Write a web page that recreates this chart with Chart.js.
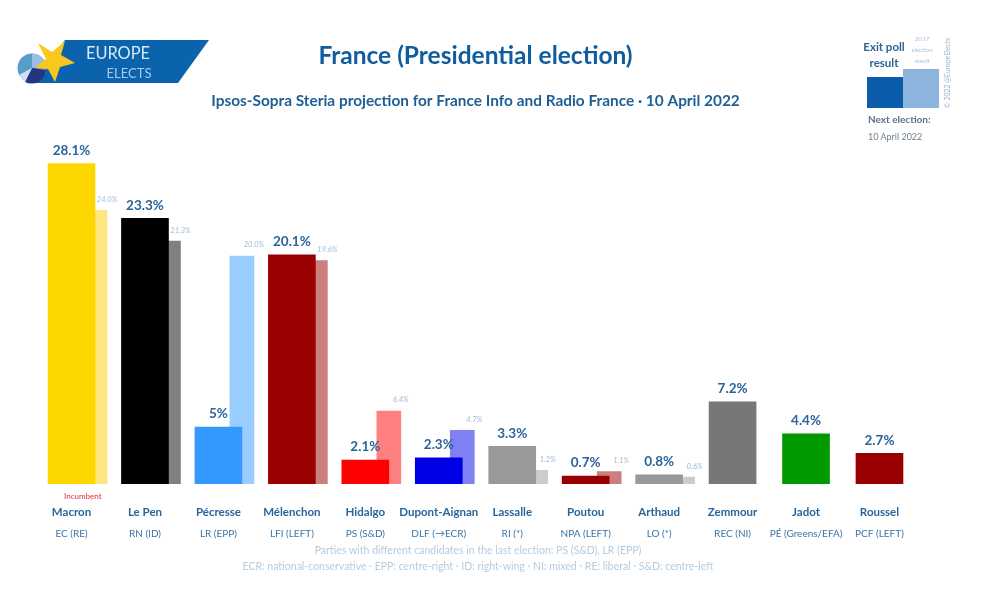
<!DOCTYPE html>
<html><head><meta charset="utf-8">
<script src="https://cdn.jsdelivr.net/npm/chart.js@4"></script>
<style>
html,body{margin:0;padding:0;background:#fff;width:1000px;height:605px;overflow:hidden}
#wrap{position:relative;width:1000px;height:605px;filter:blur(.35px);font-family:Lato,sans-serif}
canvas{position:absolute;left:0;top:0}
svg{position:absolute;left:0;top:0}
</style></head><body>
<div id="wrap">
<canvas id="c" width="1000" height="605"></canvas>
<svg width="1000" height="605">
  <polygon points="65,40 209,40 178,83 30,83" fill="#0b62ad"/>
  <circle cx="32" cy="68" r="14.5" fill="#5a9cc8"/>
  <path d="M32 68 L32 53.5 A14.5 14.5 0 0 1 46 65 Z" fill="#9dbfe3"/>
  <path d="M32 68 L46 70 A14.5 14.5 0 0 1 25 82 Z" fill="#25357f"/>
  <path d="M32 68 L25 82 A14.5 14.5 0 0 1 19 75 Z" fill="#cfe0ef"/>
  <polygon points="65,41 61,55 75,63 60,67 55,82 48,69 35,68 46,59 38,43 52,52" fill="#f8c91c"/>
  <text x="118" y="59" text-anchor="middle" font-family="Lato" font-size="18" fill="#d8e8f5" textLength="64" lengthAdjust="spacingAndGlyphs">EUROPE</text>
  <text x="129" y="78" text-anchor="middle" font-family="Lato" font-size="14" fill="#a9cbe8" textLength="45" lengthAdjust="spacingAndGlyphs">ELECTS</text>
  <rect x="867" y="77" width="37" height="31" fill="#0b5cab"/>
  <rect x="903" y="69" width="36" height="39" fill="#8db4dc"/>
  <text x="884" y="51" text-anchor="middle" font-family="Lato" font-weight="700" font-size="11.5" fill="#2c6496">Exit poll</text>
  <text x="884" y="67" text-anchor="middle" font-family="Lato" font-weight="700" font-size="11.5" fill="#2c6496">result</text>
  <g font-family="Lato" font-style="italic" font-size="6.5" fill="#a8c4e2" text-anchor="middle">
    <text x="922" y="41">2017</text><text x="922" y="52">election</text><text x="922" y="63">result</text>
  </g>
  <text transform="translate(950,108) rotate(-90)" font-family="Lato" font-size="7" fill="#9db4c8" textLength="70">© 2022 @EuropeElects</text>
  <text x="868" y="123" font-family="Lato" font-weight="700" font-size="10" fill="#5f6f7f">Next election:</text>
  <text x="868" y="140" font-family="Lato" font-size="9" fill="#6f7f8f">10 April 2022</text>
</svg>
</div>
<script>
const candidates = ["Macron","Le Pen","Pécresse","Mélenchon","Hidalgo","Dupont-Aignan","Lassalle","Poutou","Arthaud","Zemmour","Jadot","Roussel"];
const parties = ["EC (RE)","RN (ID)","LR (EPP)","LFI (LEFT)","PS (S&D)","DLF (→ECR)","RI (*)","NPA (LEFT)","LO (*)","REC (NI)","PÉ (Greens/EFA)","PCF (LEFT)"];
const exitPoll = [28.1,23.3,5,20.1,2.1,2.3,3.3,0.7,0.8,7.2,4.4,2.7];
const result2017 = [24.0,21.3,20.0,19.6,6.4,4.7,1.2,1.1,0.6,null,null,null];
const exitColors = ["#ffd700","#000000","#3399ff","#990000","#ff0000","#0000e6","#999999","#990000","#999999","#777777","#009900","#990000"];
const prevColors = ["#ffe680","#808080","#99ccff","#cc7f7f","#ff8080","#8080f2","#cccccc","#cc7f7f","#cccccc","#cccccc","#cccccc","#cccccc"];
const footnotes = ["Parties with different candidates in the last election: PS (S&D), LR (EPP)",
  "ECR: national-conservative · EPP: centre-right · ID: right-wing · NI: mixed · RE: liberal · S&D: centre-left"];

const F = "Lato, sans-serif";
const barLabels = {
  id:"barLabels",
  afterDatasetsDraw(chart){
    const c = chart.ctx; c.save(); c.textAlign="center"; c.textBaseline="middle";
    chart.getDatasetMeta(0).data.forEach((b,i)=>{
      c.font="700 13.5px "+F; c.fillStyle="#2a649c";
      c.fillText(exitPoll[i]+"%", b.x, b.y-13);
    });
    chart.getDatasetMeta(1).data.forEach((b,i)=>{
      if(result2017[i]==null) return;
      c.font="italic 7.5px "+F; c.fillStyle="#9dbbd8";
      c.fillText(result2017[i].toFixed(1)+"%", b.x+12, b.y-11);
    });
    c.textAlign="left"; c.font="8px "+F; c.fillStyle="#e03040";
    const m = chart.getDatasetMeta(0).data[0];
    c.fillText("Incumbent", m.x-7.5, 496);
    const sx = 478;
    c.textAlign="center"; c.font="10.5px "+F; c.fillStyle="#b3cce0";
    c.fillText(footnotes[0], sx, 551);
    c.fillText(footnotes[1], sx, 567);
    c.restore();
  }
};
new Chart(document.getElementById("c"),{
  type:"bar",
  data:{labels:candidates,datasets:[
    {label:"Exit poll result",data:exitPoll,backgroundColor:exitColors,xAxisID:"x",barThickness:47,grouped:false},
    {label:"2017 election result",data:result2017.map((v,i)=>({x:i,y:v})),backgroundColor:prevColors,xAxisID:"xPrev",barThickness:24,grouped:false}
  ]},
  plugins:[barLabels],
  options:{
    responsive:false,animation:false,devicePixelRatio:1,
    layout:{padding:{left:34.8,right:83.8,top:41,bottom:61}},
    plugins:{
      legend:{display:false},tooltip:{enabled:false},
      title:{display:true,text:"France (Presidential election)",color:"#0f5c9e",font:{family:F,size:24.5,weight:"700",lineHeight:1.2245},padding:{top:0,bottom:21}},
      subtitle:{display:true,text:"Ipsos-Sopra Steria projection for France Info and Radio France · 10 April 2022",color:"#1f5f96",font:{family:F,size:15.4,weight:"700",lineHeight:1.1688},padding:{top:0,bottom:32}}
    },
    scales:{
      y:{display:false,min:0,max:30},
      x:{type:"category",labels:candidates,offset:true,position:"bottom",grid:{display:false,drawTicks:false},border:{display:false},
         ticks:{autoSkip:false,maxRotation:0,minRotation:0,color:"#28659c",font:{family:F,size:11.5,weight:"700"},padding:21},
         afterFit(s){s.height=39}},
      xParty:{type:"category",labels:parties,offset:true,position:"bottom",grid:{display:false,drawTicks:false},border:{display:false},
         ticks:{autoSkip:false,maxRotation:0,minRotation:0,color:"#3a74a8",font:{family:F,size:10},padding:5},
         afterFit(s){s.height=21}},
      xPrev:{type:"linear",display:false,offset:false,min:-0.5-0.32,max:11.5-0.32,grid:{offset:false}}
    }
  }
});
</script>
</body></html>
